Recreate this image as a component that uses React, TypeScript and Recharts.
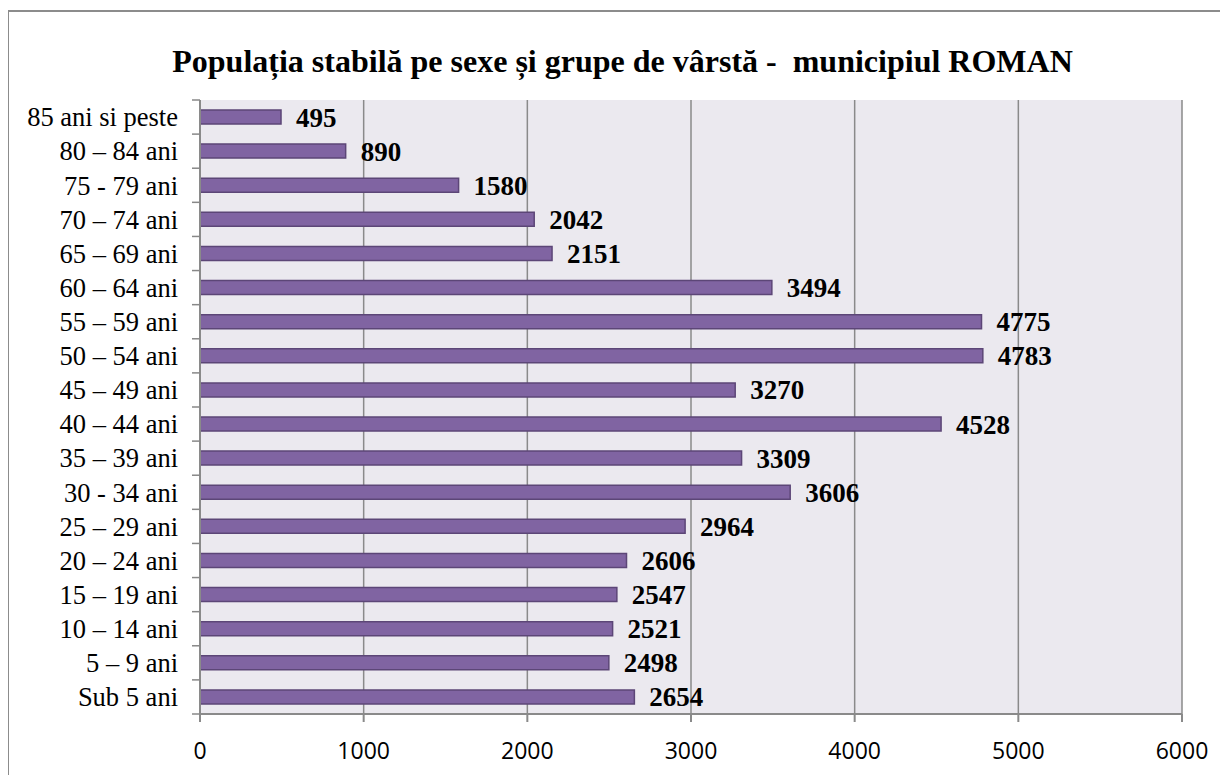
import React from 'react';
import { BarChart, Bar, XAxis, YAxis, CartesianGrid, LabelList } from 'recharts';

const ageGroups = [
  '85 ani si peste',
  '80 – 84 ani',
  '75 - 79 ani',
  '70 – 74 ani',
  '65 – 69 ani',
  '60 – 64 ani',
  '55 – 59 ani',
  '50 – 54 ani',
  '45 – 49 ani',
  '40 – 44 ani',
  '35 – 39 ani',
  '30 - 34  ani',
  '25 – 29 ani',
  '20 – 24 ani',
  '15 – 19 ani',
  '10 – 14 ani',
  '5 – 9 ani',
  'Sub 5 ani',
];

const population = [
  495, 890, 1580, 2042, 2151, 3494, 4775, 4783, 3270, 4528, 3309, 3606, 2964, 2606, 2547, 2521, 2498, 2654,
];

const xTicks = [0, 1000, 2000, 3000, 4000, 5000, 6000];

const data = ageGroups.map((group, i) => ({ group, value: population[i] }));

const CHART_W = 1213;
const CHART_H = 760;
const MARGIN = { top: 88, right: 40, left: 0, bottom: 8 };
const X_AXIS_H = 50;
const plotHeight = CHART_H - MARGIN.top - MARGIN.bottom - X_AXIS_H;
const band = plotHeight / ageGroups.length;

const serif = '"Liberation Serif", "Times New Roman", serif';

const CategoryTick = (props: any) => {
  const { x, y, payload, index } = props;
  return (
    <g>
      <line x1={x} x2={x + 8} y1={y - band / 2} y2={y - band / 2} stroke="#888" strokeWidth={1.5} />
      {index === ageGroups.length - 1 && (
        <line x1={x} x2={x + 8} y1={y + band / 2} y2={y + band / 2} stroke="#888" strokeWidth={1.5} />
      )}
      <text x={x - 14} y={y} dy="0.35em" textAnchor="end" fontFamily={serif} fontSize={26.5} fill="#000">
        {payload.value}
      </text>
    </g>
  );
};

const App: React.FC = () => {
  return (
    <div
      style={{
        position: 'relative',
        width: CHART_W,
        height: 800,
        border: '2px solid #8c8c8c',
        marginTop: 2,
        marginLeft: -1,
        background: '#fff',
      }}
    >
      <div
        style={{
          position: 'absolute',
          top: 31,
          left: 7,
          width: CHART_W,
          textAlign: 'center',
          fontFamily: serif,
          fontWeight: 'bold',
          fontSize: 32,
          color: '#000',
          whiteSpace: 'pre',
        }}
      >
        Populația stabilă pe sexe și grupe de vârstă -  municipiul ROMAN
      </div>
      <BarChart width={CHART_W} height={CHART_H} data={data} layout="vertical" margin={MARGIN}>
        <CartesianGrid horizontal={false} stroke="#8a8a8a" strokeWidth={1.5} fill="#EBE9EF" fillOpacity={1} />
        <XAxis
          type="number"
          domain={[0, 6000]}
          ticks={xTicks}
          height={X_AXIS_H}
          stroke="#8a8a8a"
          strokeWidth={2}
          tickSize={8}
          tickMargin={21}
          tick={{ fill: '#000', fontSize: 23, fontFamily: '"Open Sans", "Noto Sans", sans-serif' }}
        />
        <YAxis
          type="category"
          dataKey="group"
          width={191}
          stroke="#8a8a8a"
          strokeWidth={2}
          tickLine={false}
          interval={0}
          tick={<CategoryTick />}
        />
        <Bar dataKey="value" fill="#8064A2" stroke="#5C4677" strokeWidth={1.5} barSize={14} isAnimationActive={false}>
          <LabelList
            dataKey="value"
            position="right"
            offset={15}
            fill="#000"
            fontFamily={serif}
            fontWeight="bold"
            fontSize={27}
          />
        </Bar>
      </BarChart>
    </div>
  );
};

export default App;
